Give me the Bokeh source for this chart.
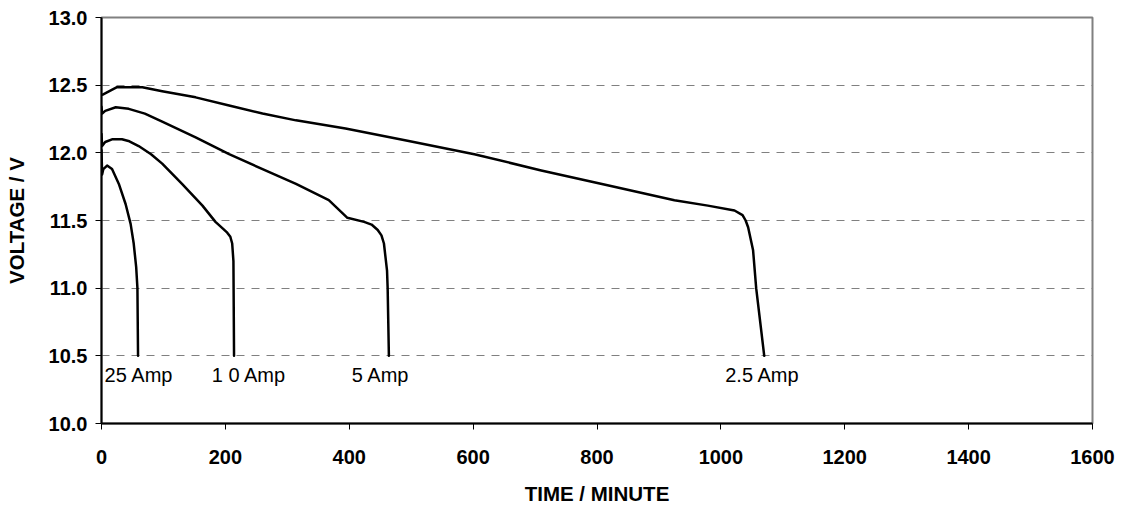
from bokeh.plotting import figure
from bokeh.models import Range1d, FixedTicker, PrintfTickFormatter, ColumnDataSource
from bokeh.core.properties import value
from bokeh.embed import file_html
from bokeh.resources import INLINE

# ---- data ----
t_25a = [0, 1, 3, 9, 17, 28, 39, 47, 52, 56, 58, 59]
v_25a = [12.02, 11.84, 11.88, 11.906, 11.88, 11.77, 11.62, 11.475, 11.33, 11.155, 11.0, 10.5]

t_10a = [0, 1, 6, 17, 33, 45, 60, 80, 98, 130, 163, 184, 196, 203, 208, 211, 213, 214]
v_10a = [12.14, 12.05, 12.08, 12.10, 12.10, 12.085, 12.05, 11.99, 11.92, 11.77, 11.61,
         11.49, 11.44, 11.41, 11.38, 11.33, 11.20, 10.5]

t_5a = [0, 1, 6, 23, 44, 70, 98, 152, 206, 260, 314, 367, 397, 424, 436, 446, 452, 456,
        461, 462, 464]
v_5a = [12.34, 12.29, 12.31, 12.337, 12.325, 12.29, 12.23, 12.115, 11.99, 11.88, 11.77,
        11.65, 11.52, 11.49, 11.47, 11.43, 11.39, 11.33, 11.13, 11.0, 10.5]

t_2_5a = [2, 25, 66, 98, 152, 206, 260, 314, 394, 494, 602, 710, 817, 925, 979, 1022,
          1035, 1040, 1044, 1052, 1057, 1070]
v_2_5a = [12.43, 12.485, 12.485, 12.455, 12.41, 12.35, 12.29, 12.24, 12.18, 12.09, 11.99,
          11.87, 11.76, 11.65, 11.61, 11.574, 11.54, 11.50, 11.45, 11.28, 11.0, 10.5]

label_text = ["25 Amp", "1 0 Amp", "5 Amp", "2.5 Amp"]
label_t = [5, 178, 404, 1007]
label_v = [10.36, 10.36, 10.36, 10.36]

x_ticks = [0, 200, 400, 600, 800, 1000, 1200, 1400, 1600]
y_ticks = [10.0, 10.5, 11.0, 11.5, 12.0, 12.5, 13.0]

FONT = "Liberation Sans"

p = figure(width=1125, height=508, output_backend="svg", toolbar_location=None,
           x_range=Range1d(0, 1600), y_range=Range1d(10, 13),
           min_border_left=101, min_border_right=33, min_border_top=17, min_border_bottom=85)
p.background_fill_color = "white"
p.border_fill_color = "white"
p.outline_line_color = "#808080"
p.outline_line_width = 2

# grid
p.xgrid.visible = False
p.ygrid.ticker = FixedTicker(ticks=y_ticks)
p.ygrid.grid_line_color = "#808080"
p.ygrid.grid_line_dash = "8 7"
p.ygrid.grid_line_width = 1

# axes
for ax in (p.xaxis[0], p.yaxis[0]):
    ax.axis_line_color = "black"
    ax.axis_line_width = 2
    ax.major_tick_line_color = "black"
    ax.major_tick_line_width = 1
    ax.major_tick_in = 0
    ax.major_tick_out = 6
    ax.minor_tick_line_color = None
    ax.major_label_text_font = FONT
    ax.major_label_text_font_style = "bold"
    ax.major_label_text_font_size = "20px"
    ax.major_label_text_color = "black"
    ax.axis_label_text_font = FONT
    ax.axis_label_text_font_style = "bold"
    ax.axis_label_text_font_size = "20.5px"
    ax.axis_label_text_color = "black"

p.xaxis.ticker = FixedTicker(ticks=x_ticks)
p.xaxis.formatter = PrintfTickFormatter(format="%d")
p.xaxis.axis_label = "TIME / MINUTE"
p.xaxis.major_label_standoff = 20
p.xaxis.axis_label_standoff = 15

p.yaxis.ticker = FixedTicker(ticks=y_ticks)
p.yaxis.formatter = PrintfTickFormatter(format="%.1f")
p.yaxis.axis_label = "VOLTAGE / V"
p.yaxis.major_label_standoff = 8
p.yaxis.axis_label_standoff = 18

# curves
for t, v in ((t_25a, v_25a), (t_10a, v_10a), (t_5a, v_5a), (t_2_5a, v_2_5a)):
    p.line(t, v, line_color="black", line_width=2.5, line_join="round", line_cap="round")

# labels
src = ColumnDataSource(dict(x=label_t, y=label_v, text=label_text))
p.text(x="x", y="y", text="text", source=src, text_font=value(FONT),
       text_font_size="20px", text_color="black", text_baseline="middle", text_align="left")

open("out.html", "w").write(file_html(p, INLINE))
